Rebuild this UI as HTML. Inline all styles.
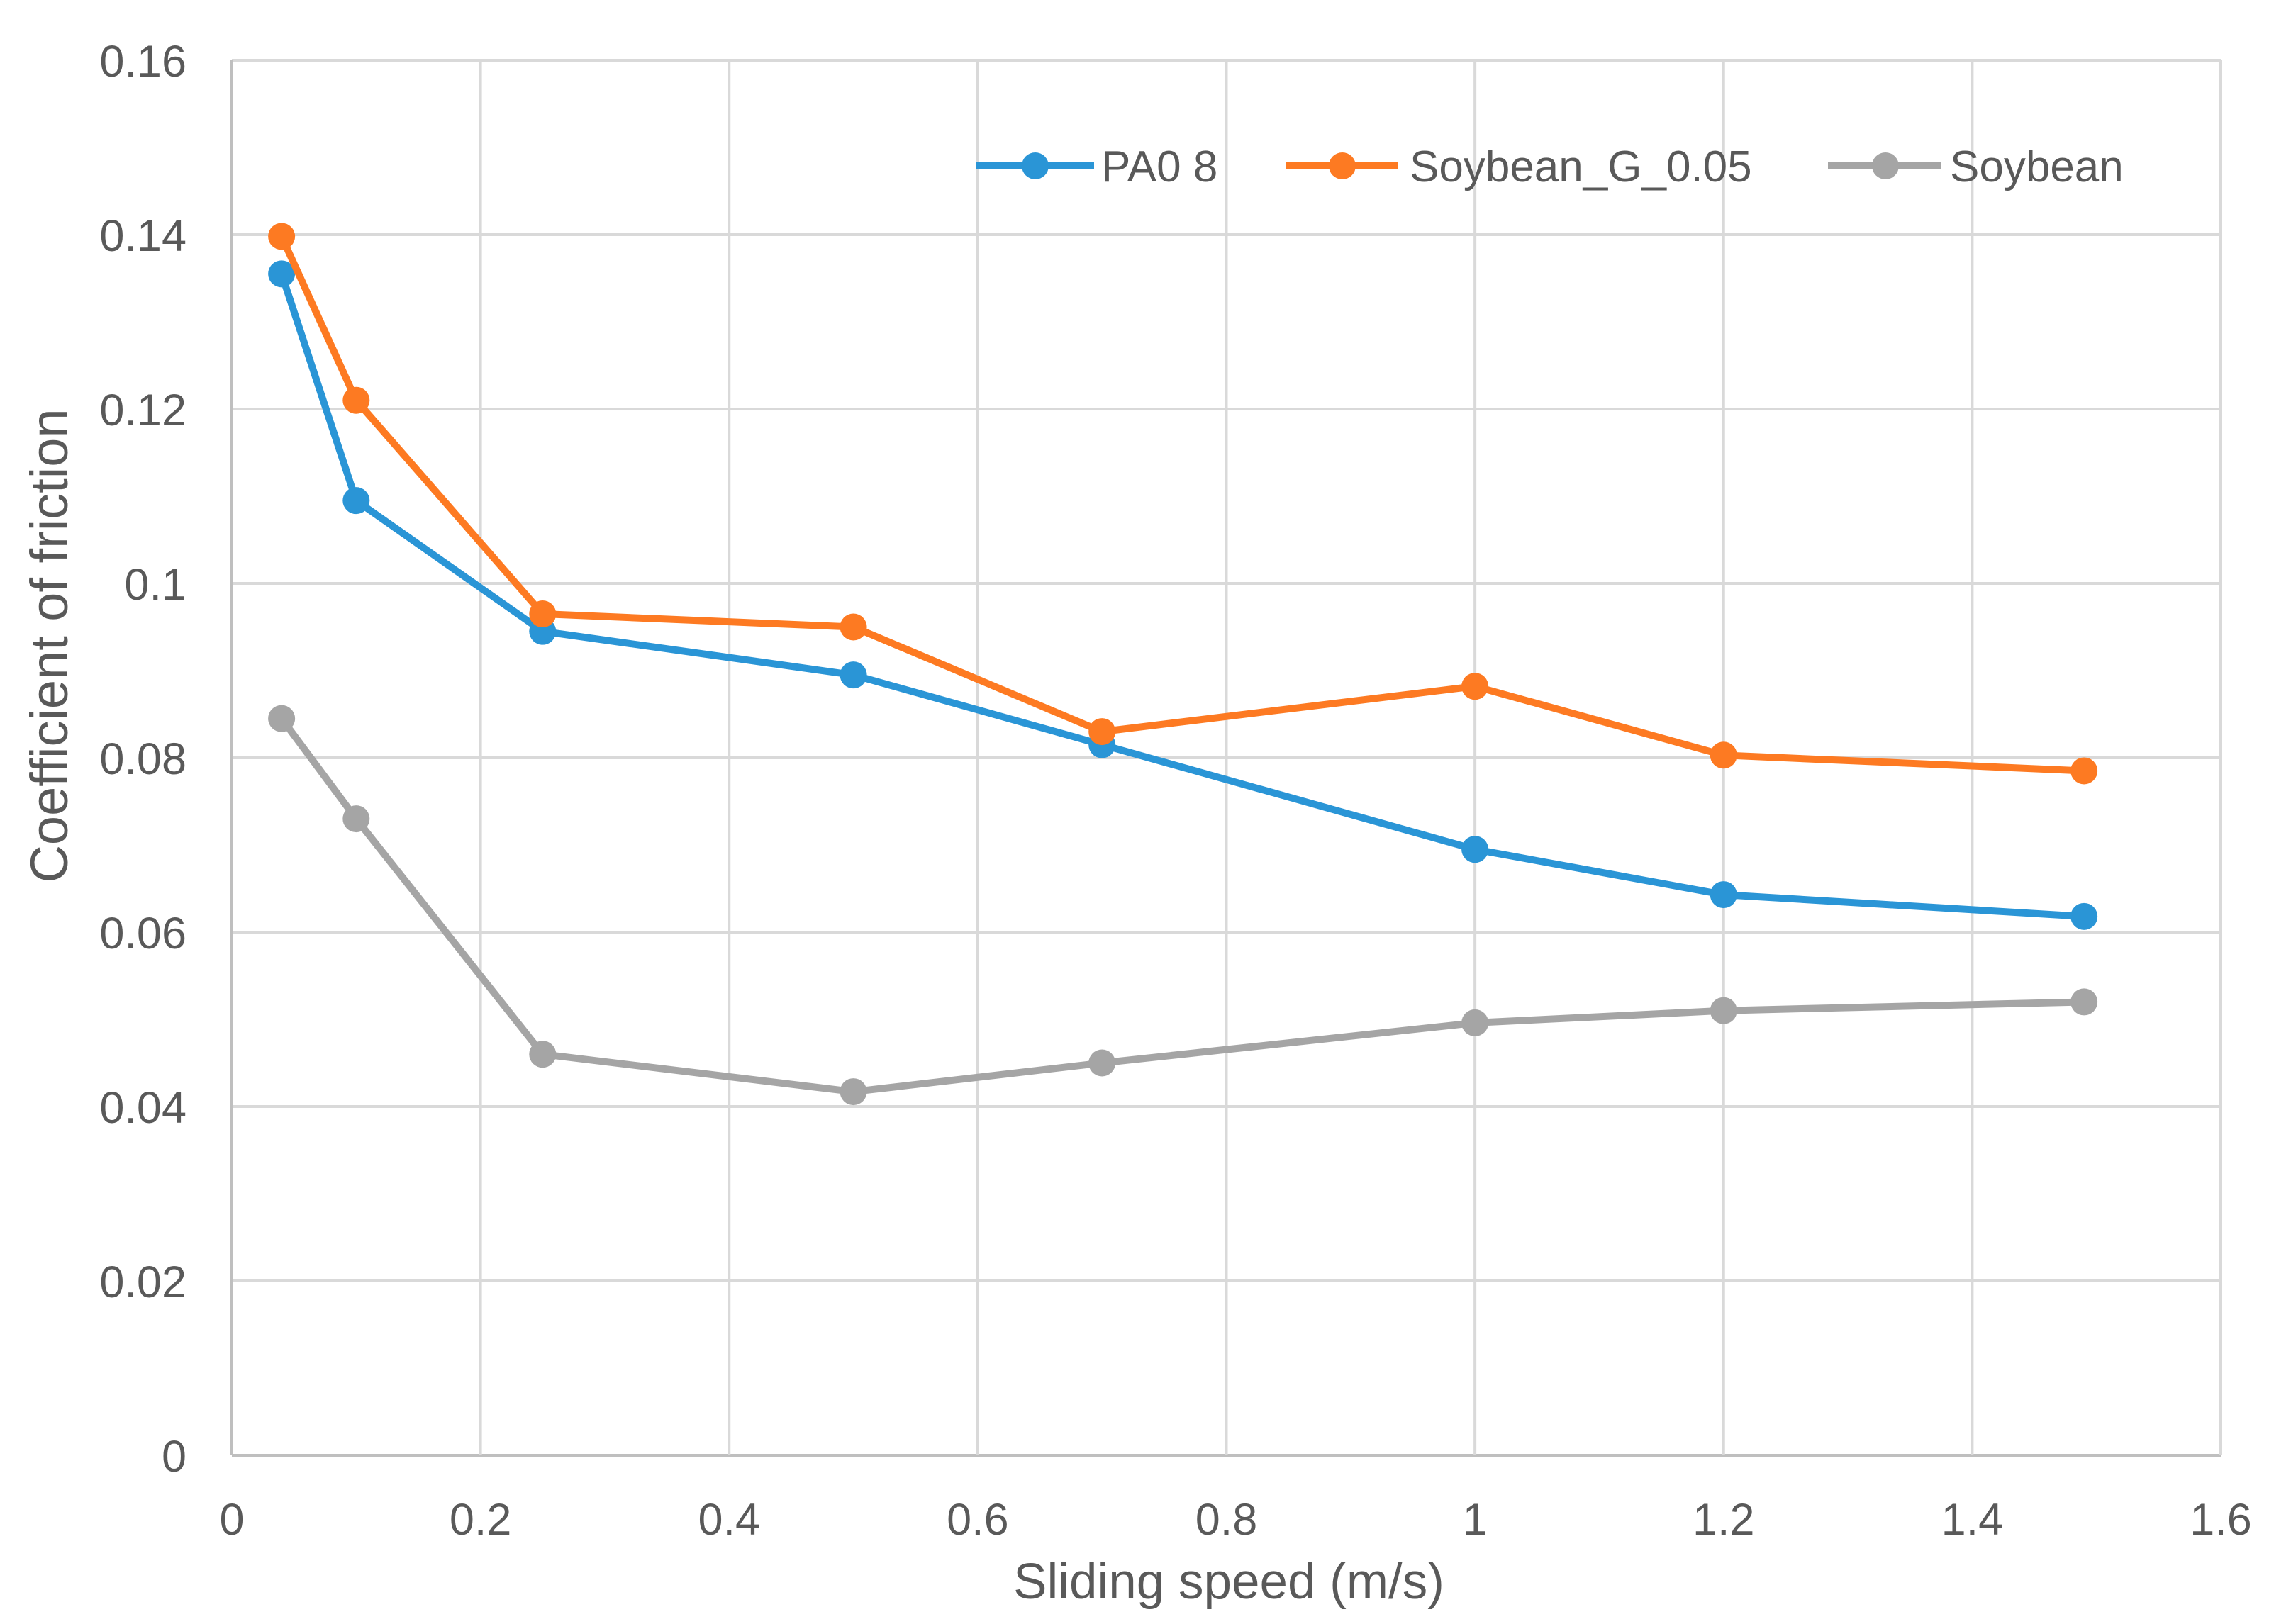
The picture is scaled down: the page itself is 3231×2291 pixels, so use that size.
<!DOCTYPE html>
<html><head><meta charset="utf-8"><style>
html,body{margin:0;padding:0;background:#fff;}
svg{display:block;font-family:"Liberation Sans",sans-serif;}
</style></head><body>
<svg id="chart" width="3231" height="2291" viewBox="0 0 3231 2291" xmlns="http://www.w3.org/2000/svg">
<rect width="3231" height="2291" fill="#fff"/>
<g id="grid"></g><g id="axes"></g><g id="series"></g><g id="legend"></g>
<text x="1733" y="2255" font-size="71" fill="#595959" text-anchor="middle">Sliding speed (m/s)</text>
<text transform="translate(95,911) rotate(-90)" font-size="74" fill="#595959" text-anchor="middle">Coefficient of friction</text>
</svg>
<script>
const xValues = [0.04, 0.1, 0.25, 0.5, 0.7, 1.0, 1.2, 1.49];
const pao8 = [0.1355, 0.1095, 0.0945, 0.0895, 0.0815, 0.0695, 0.0643, 0.0618];
const soybeanG = [0.1398, 0.121, 0.0965, 0.095, 0.083, 0.0882, 0.0803, 0.0785];
const soybean = [0.0845, 0.073, 0.046, 0.0417, 0.045, 0.0496, 0.051, 0.052];
const seriesNames = ["PA0 8", "Soybean_G_0.05", "Soybean"];
const xTicks = [0, 0.2, 0.4, 0.6, 0.8, 1, 1.2, 1.4, 1.6];
const yTicks = [0, 0.02, 0.04, 0.06, 0.08, 0.1, 0.12, 0.14, 0.16];
const xTickLabels = ["0","0.2","0.4","0.6","0.8","1","1.2","1.4","1.6"];
const yTickLabels = ["0","0.02","0.04","0.06","0.08","0.1","0.12","0.14","0.16"];

const NS = "http://www.w3.org/2000/svg";
const L = 327, R = 3132, T = 85, B = 2053;
function xs(v){ return L + (v - 0) / (1.6 - 0) * (R - L); }
function ys(v){ return B - (v - 0) / (0.16 - 0) * (B - T); }
function mk(tag, attrs, parent){ const e = document.createElementNS(NS, tag); for (const k in attrs) e.setAttribute(k, attrs[k]); parent.appendChild(e); return e; }

const grid = document.getElementById('grid');
const axes = document.getElementById('axes');
yTicks.forEach((t, i) => {
  const g = mk('line', {x1: L, x2: R, y1: ys(t), y2: ys(t), stroke: i === 0 ? '#bfbfbf' : '#d9d9d9', 'stroke-width': 4}, grid);
  
  
  const tx = mk('text', {x: 263, y: ys(t) + 23, 'font-size': 63, fill: '#595959', 'text-anchor': 'end'}, axes);
  tx.textContent = yTickLabels[i];
  
  
});
xTicks.forEach((t, i) => {
  const g = mk('line', {x1: xs(t), x2: xs(t), y1: T, y2: B, stroke: i === 0 ? '#bfbfbf' : '#d9d9d9', 'stroke-width': 4}, grid);
  
  
  const tx = mk('text', {x: xs(t), y: 2165, 'font-size': 63, fill: '#595959', 'text-anchor': 'middle'}, axes);
  tx.textContent = xTickLabels[i];
  
  
});

const seriesData = [pao8, soybeanG, soybean];
const colors = ['#2a95d6', '#fd7a22', '#a5a5a5'];
const sg = document.getElementById('series');
const order = [2, 0, 1];
order.forEach(si => {
  const vals = seriesData[si];
  const g = mk('g', {}, sg);
  
  
  const pts = vals.map((v, i) => xs(xValues[i]) + ',' + ys(v)).join(' ');
  const pl = mk('polyline', {points: pts, fill: 'none', stroke: colors[si], 'stroke-width': 10, 'stroke-linejoin': 'round'}, g);
  
  
  vals.forEach((v, i) => {
    const c = mk('circle', {cx: xs(xValues[i]), cy: ys(v), r: 19, fill: colors[si]}, g);
    
    
  });
});

const lg = document.getElementById('legend');
const legendItems = [[1377, 1543, 1460, 1553], [1814, 1972, 1893, 1988], [2578, 2738, 2659, 2750]];
legendItems.forEach((it, i) => {
  const g = mk('g', {}, lg);
  
  
  mk('line', {x1: it[0], x2: it[1], y1: 234, y2: 234, stroke: colors[i], 'stroke-width': 10}, g);
  mk('circle', {cx: it[2], cy: 234, r: 19, fill: colors[i]}, g);
  const tx = mk('text', {x: it[3], y: 256, 'font-size': 62, fill: '#595959'}, g);
  tx.textContent = seriesNames[i];
  
  
});
</script>
</body></html>
